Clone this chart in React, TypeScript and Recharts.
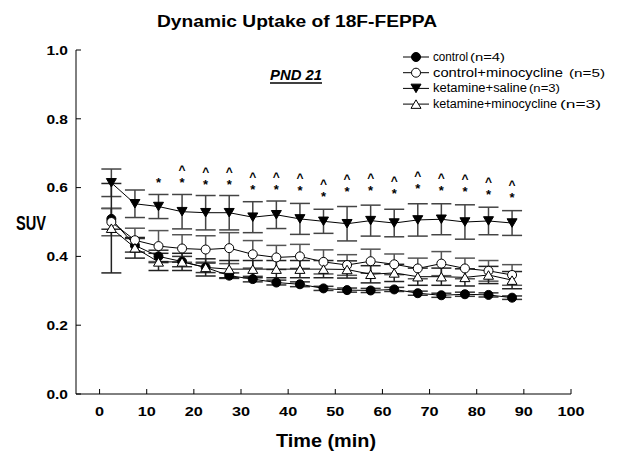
import React from 'react';
import { ComposedChart, Line, XAxis, YAxis, ErrorBar, Scatter, Legend } from 'recharts';

const times = [2.5, 7.5, 12.5, 17.5, 22.5, 27.5, 32.5, 37.5, 42.5, 47.5, 52.5, 57.5, 62.5, 67.5, 72.5, 77.5, 82.5, 87.5];

const control = [0.509, 0.432, 0.4, 0.385, 0.368, 0.344, 0.334, 0.324, 0.319, 0.307, 0.302, 0.301, 0.304, 0.293, 0.287, 0.29, 0.288, 0.28];
const controlSd = [0.03, 0.02, 0.018, 0.015, 0.015, 0.008, 0.008, 0.007, 0.007, 0.006, 0.006, 0.006, 0.006, 0.006, 0.006, 0.006, 0.006, 0.005];

const controlMino = [0.5, 0.447, 0.43, 0.423, 0.42, 0.424, 0.406, 0.397, 0.4, 0.384, 0.375, 0.386, 0.377, 0.365, 0.379, 0.365, 0.358, 0.346];
const controlMinoSd = [0.04, 0.035, 0.045, 0.04, 0.04, 0.045, 0.04, 0.035, 0.035, 0.035, 0.03, 0.035, 0.03, 0.03, 0.035, 0.03, 0.03, 0.03];

const ketSaline = [0.614, 0.553, 0.545, 0.53, 0.527, 0.527, 0.514, 0.521, 0.509, 0.502, 0.495, 0.504, 0.497, 0.506, 0.508, 0.5, 0.503, 0.497];
const ketSalineSd = [0.04, 0.04, 0.035, 0.05, 0.05, 0.05, 0.045, 0.04, 0.045, 0.035, 0.05, 0.045, 0.04, 0.047, 0.045, 0.05, 0.04, 0.036];

const ketMino = [0.482, 0.425, 0.384, 0.384, 0.368, 0.363, 0.363, 0.363, 0.363, 0.363, 0.362, 0.348, 0.352, 0.341, 0.341, 0.339, 0.346, 0.331];
const ketMinoSd = [0.13, 0.03, 0.025, 0.025, 0.025, 0.025, 0.025, 0.025, 0.025, 0.025, 0.025, 0.025, 0.025, 0.025, 0.025, 0.025, 0.025, 0.025];

const starTimes = [12.5, 17.5, 22.5, 27.5, 32.5, 37.5, 42.5, 47.5, 52.5, 57.5, 62.5, 67.5, 72.5, 77.5, 82.5, 87.5];
const starY = [0.622, 0.622, 0.617, 0.615, 0.603, 0.603, 0.6, 0.581, 0.596, 0.6, 0.589, 0.605, 0.6, 0.596, 0.586, 0.578];
const caretFlags = [false, true, true, true, true, true, true, true, true, true, true, true, true, true, true, true];

const xTicks = [0, 10, 20, 30, 40, 50, 60, 70, 80, 90, 100];
const yTicks = [0, 0.2, 0.4, 0.6, 0.8, 1.0];

const legendItems = [
  { name: 'control', n: '(n=4)', marker: 'filledCircle', nameLen: 35, nStart: 37, nLen: 35 },
  { name: 'control+minocycline', n: '(n=5)', marker: 'openCircle', nameLen: 130, nStart: 136, nLen: 36 },
  { name: 'ketamine+saline', n: '(n=3)', marker: 'filledTriDown', nameLen: 94, nStart: 96, nLen: 31 },
  { name: 'ketamine+minocycline', n: '(n=3)', marker: 'openTriUp', nameLen: 124, nStart: 127, nLen: 41 },
];

const rows = times.map((t, i) => ({
  t,
  c: control[i], cSd: controlSd[i],
  cm: controlMino[i], cmSd: controlMinoSd[i],
  ks: ketSaline[i], ksSd: ketSalineSd[i],
  km: ketMino[i], kmSd: ketMinoSd[i],
}));

const starRows = starTimes.map((t, i) => ({ t, s: starY[i], caret: caretFlags[i] }));

const FONT = "Arial, 'Liberation Sans', Helvetica, sans-serif";
const SX = 1.25;

function Marker({ type, cx, cy }: { type: string; cx: number; cy: number }) {
  const r = 4.5;
  if (type === 'filledCircle') return <circle cx={cx} cy={cy} r={r} fill="#000" stroke="#000" strokeWidth={1} />;
  if (type === 'openCircle') return <circle cx={cx} cy={cy} r={r} fill="#fff" stroke="#000" strokeWidth={1} />;
  const h = 8.5, w = 10;
  if (type === 'filledTriDown') {
    return <polygon points={`${cx - w / 2},${cy - h / 2} ${cx + w / 2},${cy - h / 2} ${cx},${cy + h / 2}`} fill="#000" stroke="#000" strokeWidth={1} />;
  }
  return <polygon points={`${cx - w / 2},${cy + h / 2} ${cx + w / 2},${cy + h / 2} ${cx},${cy - h / 2}`} fill="#fff" stroke="#000" strokeWidth={1} />;
}

const dotFor = (type: string) => (props: any) => (
  <Marker key={`${type}-${props.index}`} type={type} cx={props.cx} cy={props.cy} />
);

function XTick(props: any) {
  const { x, y, payload } = props;
  return (
    <g transform={`translate(${x},${y})`}>
      <text transform={`scale(${SX},1)`} textAnchor="middle" dy="0.71em" fontFamily={FONT} fontWeight="bold" fontSize={13} fill="#000">
        {payload.value}
      </text>
    </g>
  );
}

function YTick(props: any) {
  const { x, y, payload } = props;
  return (
    <g transform={`translate(${x},${y})`}>
      <text transform={`scale(1.15,1)`} textAnchor="end" dy="0.355em" fontFamily={FONT} fontWeight="bold" fontSize={13.5} fill="#000">
        {Number(payload.value).toFixed(1)}
      </text>
    </g>
  );
}

function StarShape(props: any) {
  const { cx, cy, payload } = props;
  return (
    <g>
      <text x={cx} y={cy + 7} textAnchor="middle" fontFamily={FONT} fontWeight="bold" fontSize={13} fill="#000">*</text>
      {payload.caret ? (
        <text x={cx} y={cy - 6} textAnchor="middle" fontFamily={FONT} fontWeight="bold" fontSize={12} fill="#000">^</text>
      ) : null}
    </g>
  );
}

function LegendBox() {
  return (
    <svg width={218} height={66} style={{ display: 'block', overflow: 'visible' }}>
      {legendItems.map((it, i) => {
        const y = 11 + i * 15.7;
        return (
          <g key={it.name}>
            <line x1={3} x2={29} y1={y} y2={y} stroke="#000" strokeWidth={1} />
            <Marker type={it.marker} cx={16} cy={y} />
            <text x={33} y={y + 4} textLength={it.nameLen} lengthAdjust="spacingAndGlyphs" fontFamily={FONT} fontSize={12} fill="#000">
              {it.name}
            </text>
            <text x={33 + it.nStart} y={y + 4} textLength={it.nLen} lengthAdjust="spacingAndGlyphs" fontFamily={FONT} fontSize={10.5} fill="#000">
              {it.n}
            </text>
          </g>
        );
      })}
    </svg>
  );
}

export default function App() {
  return (
    <div style={{ position: 'absolute', left: 0, top: 0, width: 618, height: 460, background: '#fff' }}>
      <ComposedChart width={618} height={460} data={rows} margin={{ top: 50, right: 47, bottom: 36, left: 26 }}>
        <XAxis
          type="number"
          dataKey="t"
          domain={[-5, 100]}
          ticks={xTicks}
          allowDataOverflow
          height={30}
          tickSize={-5}
          tickMargin={18}
          tick={<XTick />}
          axisLine={{ stroke: '#000', strokeWidth: 1 }}
          tickLine={{ stroke: '#000', strokeWidth: 1 }}
        />
        <YAxis
          type="number"
          domain={[0, 1]}
          ticks={yTicks}
          allowDataOverflow
          width={50}
          tickSize={-5}
          tickMargin={13}
          tick={<YTick />}
          axisLine={{ stroke: '#000', strokeWidth: 1 }}
          tickLine={{ stroke: '#000', strokeWidth: 1 }}
        />
        <Legend
          layout="vertical"
          align="center"
          verticalAlign="middle"
          wrapperStyle={{ left: 400, top: 46, width: 218 }}
          content={() => <LegendBox />}
        />
        <Line dataKey="c" stroke="#000" strokeWidth={1} isAnimationActive={false} dot={dotFor('filledCircle')} activeDot={false}>
          <ErrorBar dataKey="cSd" width={10} stroke="#333" strokeWidth={1.5} />
        </Line>
        <Line dataKey="cm" stroke="#000" strokeWidth={1} isAnimationActive={false} dot={dotFor('openCircle')} activeDot={false}>
          <ErrorBar dataKey="cmSd" width={10} stroke="#555" strokeWidth={1.5} />
        </Line>
        <Line dataKey="ks" stroke="#000" strokeWidth={1} isAnimationActive={false} dot={dotFor('filledTriDown')} activeDot={false}>
          <ErrorBar dataKey="ksSd" width={10} stroke="#444" strokeWidth={1.5} />
        </Line>
        <Line dataKey="km" stroke="#000" strokeWidth={1} isAnimationActive={false} dot={dotFor('openTriUp')} activeDot={false}>
          <ErrorBar dataKey="kmSd" width={10} stroke="#222" strokeWidth={1.5} />
        </Line>
        <Scatter data={starRows} dataKey="s" isAnimationActive={false} shape={<StarShape />} />
      </ComposedChart>
      <svg width={618} height={460} style={{ position: 'absolute', left: 0, top: 0, pointerEvents: 'none' }}>
        <text x={157} y={27} textLength={280} lengthAdjust="spacingAndGlyphs" fontFamily={FONT} fontWeight="bold" fontSize={16} fill="#000">
          Dynamic Uptake of 18F-FEPPA
        </text>
        <text x={270} y={80} textLength={52} lengthAdjust="spacingAndGlyphs" fontFamily={FONT} fontWeight="bold" fontStyle="italic" fontSize={15} fill="#000">
          PND 21
        </text>
        <line x1={270} x2={322} y1={83} y2={83} stroke="#000" strokeWidth={1.5} />
        <text x={16} y={230} textLength={30} lengthAdjust="spacingAndGlyphs" fontFamily={FONT} fontWeight="bold" fontSize={21} fill="#000">
          SUV
        </text>
        <text x={276} y={447} textLength={100} lengthAdjust="spacingAndGlyphs" fontFamily={FONT} fontWeight="bold" fontSize={18} fill="#000">
          Time (min)
        </text>
      </svg>
    </div>
  );
}
